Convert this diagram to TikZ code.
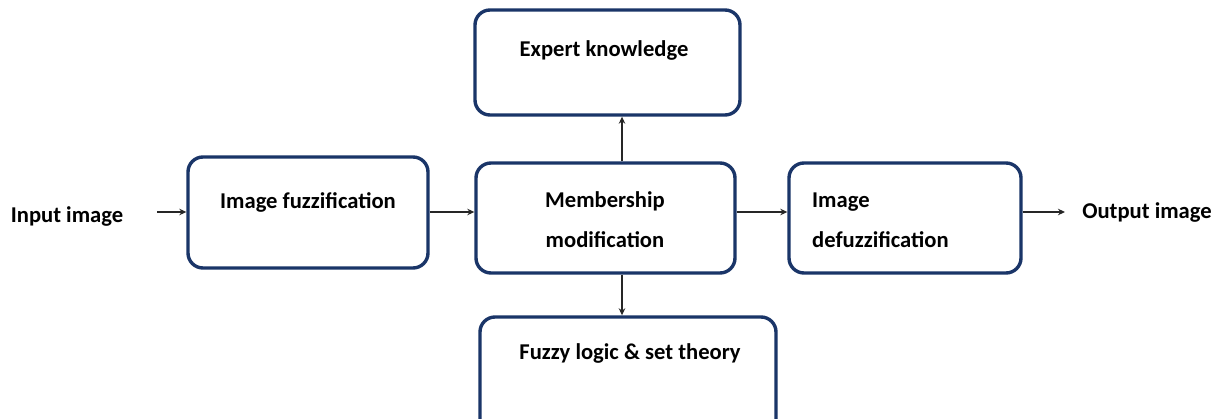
\documentclass[tikz,border=0pt]{standalone}
\usepackage{fontspec}
\setmainfont{Carlito}
\usetikzlibrary{arrows.meta}
\definecolor{boxblue}{HTML}{1A3568}
\definecolor{arrowgray}{HTML}{262626}
\tikzset{
  blk/.style={draw=boxblue, line width=3.4pt, rounded corners=15pt, fill=white, inner sep=0pt},
  lbl/.style={font=\bfseries\fontsize{22.6}{40}\selectfont, text=black, inner sep=0pt},
  arr/.style={draw=arrowgray, line width=1.4pt, -{Stealth[length=7pt,width=6.5pt]}}
}
\begin{document}
\begin{tikzpicture}[x=1pt,y=-1pt]
\useasboundingbox (0,0) rectangle (1216,419);
\clip (0,0) rectangle (1216,419);
\fill[white] (0,0) rectangle (1216,419);
% boxes
\node[blk, minimum width=265pt, minimum height=105pt] (expert) at (607.5,62.5) {};
\node[blk, minimum width=240pt, minimum height=111pt] (fuzz) at (308,212.5) {};
\node[blk, minimum width=259pt, minimum height=110pt] (memb) at (605.5,218) {};
\node[blk, minimum width=232pt, minimum height=110pt] (defuzz) at (905,218) {};
\node[blk, minimum width=296pt, minimum height=120pt] (fuzzy) at (628,377) {};
% texts
\node[lbl] (tin) at (67,216) {Input image};
\node[lbl] (tfuzz) at (308,202) {Image fuzzification};
\node[lbl] (texp) at (604,50) {Expert knowledge};
\node[lbl, align=center] (tmemb) at (605,220) {Membership\\modification};
\node[lbl, align=left, anchor=west] (tdef) at (812,220) {Image\\defuzzification};
\node[lbl] (tfl) at (630,353) {Fuzzy logic \& set theory};
\node[lbl] (tout) at (1147,212) {Output image};
% connectors
\coordinate (inA) at (157,212);
\draw[arr] (inA) -- (inA -| fuzz.west);
\draw[arr] ([yshift=0.5pt]fuzz.east) -- ([yshift=0.5pt]fuzz.east -| memb.west);
\draw[arr] ([yshift=6pt]memb.east) -- ([yshift=6pt]memb.east -| defuzz.west);
\coordinate (outA) at (1065,212);
\draw[arr] ([yshift=6pt]defuzz.east) -- (outA);
\draw[arr] ([xshift=16.5pt]memb.north) -- ([xshift=16.5pt]memb.north |- expert.south);
\draw[arr] ([xshift=16.5pt]memb.south) -- ([xshift=16.5pt]memb.south |- fuzzy.north);
\end{tikzpicture}
\end{document}
